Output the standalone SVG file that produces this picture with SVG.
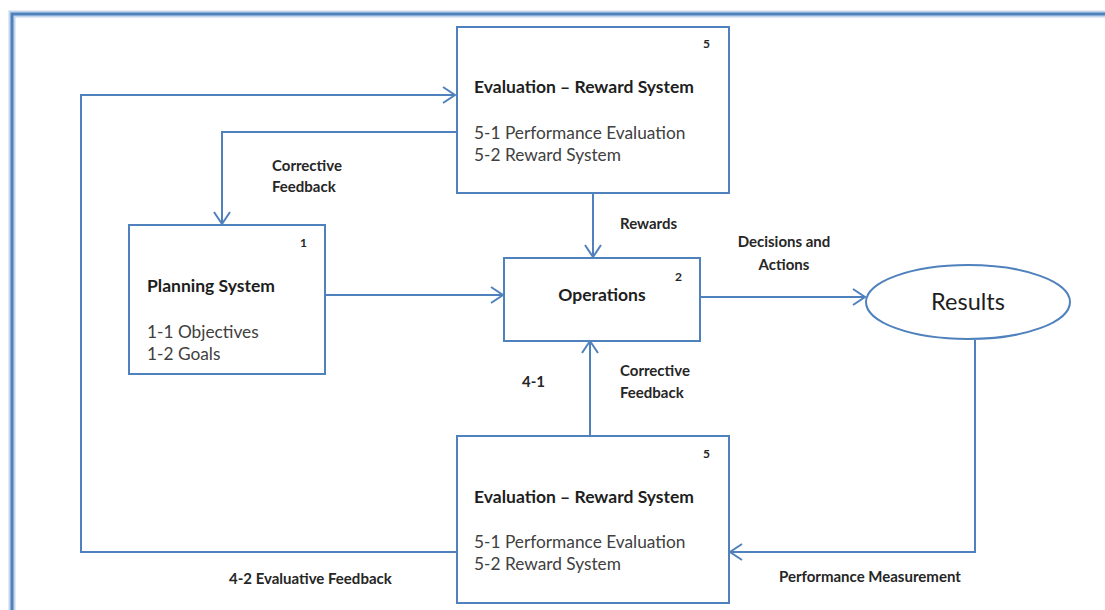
<svg xmlns="http://www.w3.org/2000/svg" width="1105" height="610" viewBox="0 0 1105 610">
  <defs>
    <style>
      .box { fill: #ffffff; stroke: #4f81bd; stroke-width: 2; }
      .wire { fill: none; stroke: #4f81bd; stroke-width: 2; }
      .title { font-family: Lato, "Liberation Sans", sans-serif; font-weight: bold; font-size: 17.5px; fill: #1e1e1e; }
      .body { font-family: Lato, "Liberation Sans", sans-serif; font-size: 17.3px; fill: #404040; }
      .num { font-family: Lato, "Liberation Sans", sans-serif; font-weight: bold; font-size: 12px; fill: #262626; }
      .lbl { font-family: Lato, "Liberation Sans", sans-serif; font-weight: bold; font-size: 15px; fill: #262626; }
      .res { font-family: Lato, "Liberation Sans", sans-serif; font-size: 23.5px; fill: #1e1e1e; }
    </style>
    <marker id="arrow" markerUnits="userSpaceOnUse" markerWidth="16" markerHeight="20" refX="14" refY="9" orient="auto">
      <path d="M2,1 L14,9 L2,17" fill="none" stroke="#4f81bd" stroke-width="2"/>
    </marker>
  </defs>

  <rect width="1105" height="610" fill="#ffffff"/>

  <!-- outer frame -->
  <g id="frame">
    <path d="M12,612 V14 H1107" fill="none" stroke="#c5d6ec" stroke-width="7"/>
    <path d="M12,612 V14 H1107" fill="none" stroke="#4f81bd" stroke-width="3"/>
  </g>

  <!-- connectors -->
  <g id="connectors">
    <path class="wire" d="M456,552 H81 V95 H455" marker-end="url(#arrow)"/>
    <path class="wire" d="M456,132 H222 V224" marker-end="url(#arrow)"/>
    <path class="wire" d="M593,193 V257" marker-end="url(#arrow)"/>
    <path class="wire" d="M325,295 H503" marker-end="url(#arrow)"/>
    <path class="wire" d="M700,297 H865" marker-end="url(#arrow)"/>
    <path class="wire" d="M975,340 V552 H730" marker-end="url(#arrow)"/>
    <path class="wire" d="M590,435 V341" marker-end="url(#arrow)"/>
  </g>

  <!-- connector labels -->
  <g id="labels">
    <text class="lbl" x="272" y="171">Corrective</text>
    <text class="lbl" x="272" y="192">Feedback</text>
    <text class="lbl" x="620" y="229">Rewards</text>
    <text class="lbl" x="784" y="247" text-anchor="middle">Decisions and</text>
    <text class="lbl" x="784" y="270" text-anchor="middle">Actions</text>
    <text class="lbl" x="522" y="387">4-1</text>
    <text class="lbl" x="620" y="376">Corrective</text>
    <text class="lbl" x="620" y="398">Feedback</text>
    <text class="lbl" x="229" y="584">4-2 Evaluative Feedback</text>
    <text class="lbl" x="779" y="582">Performance Measurement</text>
  </g>

  <g id="eval-top">
    <rect class="box" x="457" y="27" width="272" height="166"/>
    <text class="num" x="703" y="48">5</text>
    <text class="title" x="474" y="93">Evaluation – Reward System</text>
    <text class="body" x="474" y="139">5-1 Performance Evaluation</text>
    <text class="body" x="474" y="161">5-2 Reward System</text>
  </g>

  <g id="planning">
    <rect class="box" x="129" y="225" width="196" height="149"/>
    <text class="num" x="300" y="247">1</text>
    <text class="title" x="147" y="292">Planning System</text>
    <text class="body" x="147" y="338">1-1 Objectives</text>
    <text class="body" x="147" y="360">1-2 Goals</text>
  </g>

  <g id="operations">
    <rect class="box" x="504" y="258" width="196" height="83"/>
    <text class="num" x="675" y="281">2</text>
    <text class="title" x="602" y="301" text-anchor="middle">Operations</text>
  </g>

  <g id="results">
    <ellipse class="box" cx="968" cy="302" rx="102" ry="37"/>
    <text class="res" x="968" y="310" text-anchor="middle">Results</text>
  </g>

  <g id="eval-bottom">
    <rect class="box" x="457" y="436" width="272" height="167"/>
    <text class="num" x="703" y="458">5</text>
    <text class="title" x="474" y="503">Evaluation – Reward System</text>
    <text class="body" x="474" y="548">5-1 Performance Evaluation</text>
    <text class="body" x="474" y="570">5-2 Reward System</text>
  </g>
</svg>
